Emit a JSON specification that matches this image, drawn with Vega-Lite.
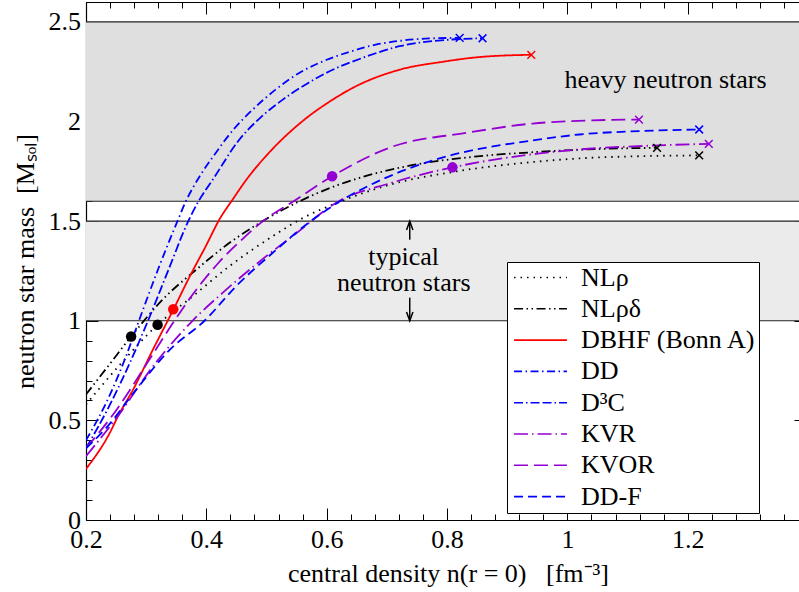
{
  "$schema": "https://vega.github.io/schema/vega-lite/v6.json",
  "width": 713,
  "height": 518,
  "autosize": {"type": "none"},
  "padding": {"left": 86, "top": 2, "right": 0, "bottom": 72},
  "background": "white",
  "config": {
    "view": {"stroke": null},
    "font": "Liberation Serif",
    "axis": {"labelFont": "Liberation Serif", "labelFontSize": 26, "labelColor": "black", "titleFont": "Liberation Serif", "titleFontSize": 26, "titleFontWeight": "normal", "titleColor": "black", "domainColor": "black", "tickColor": "black", "grid": false, "labelFlush": false, "labelOverlap": false, "labelBound": false}
  },
  "datasets": {
    "curves": [
      {"m": "NLρ", "x": 0.2, "y": 0.58}, {"m": "NLρ", "x": 0.255, "y": 0.775}, {"m": "NLρ", "x": 0.319, "y": 0.98}, {"m": "NLρ", "x": 0.377, "y": 1.122}, {"m": "NLρ", "x": 0.438, "y": 1.273}, {"m": "NLρ", "x": 0.51, "y": 1.424}, {"m": "NLρ", "x": 0.56, "y": 1.515}, {"m": "NLρ", "x": 0.62, "y": 1.595}, {"m": "NLρ", "x": 0.705, "y": 1.683}, {"m": "NLρ", "x": 0.816, "y": 1.75}, {"m": "NLρ", "x": 0.954, "y": 1.8}, {"m": "NLρ", "x": 1.02, "y": 1.815}, {"m": "NLρ", "x": 1.12, "y": 1.826}, {"m": "NLρ", "x": 1.219, "y": 1.83},
      {"m": "NLρδ", "x": 0.2, "y": 0.63}, {"m": "NLρδ", "x": 0.24, "y": 0.785}, {"m": "NLρδ", "x": 0.275, "y": 0.921}, {"m": "NLρδ", "x": 0.327, "y": 1.105}, {"m": "NLρδ", "x": 0.383, "y": 1.256}, {"m": "NLρδ", "x": 0.438, "y": 1.39}, {"m": "NLρδ", "x": 0.488, "y": 1.49}, {"m": "NLρδ", "x": 0.555, "y": 1.6}, {"m": "NLρδ", "x": 0.622, "y": 1.685}, {"m": "NLρδ", "x": 0.732, "y": 1.775}, {"m": "NLρδ", "x": 0.85, "y": 1.825}, {"m": "NLρδ", "x": 0.954, "y": 1.848}, {"m": "NLρδ", "x": 1.05, "y": 1.862}, {"m": "NLρδ", "x": 1.149, "y": 1.868},
      {"m": "DBHF (Bonn A)", "x": 0.2, "y": 0.256}, {"m": "DBHF (Bonn A)", "x": 0.24, "y": 0.44}, {"m": "DBHF (Bonn A)", "x": 0.253, "y": 0.52}, {"m": "DBHF (Bonn A)", "x": 0.278, "y": 0.653}, {"m": "DBHF (Bonn A)", "x": 0.311, "y": 0.854}, {"m": "DBHF (Bonn A)", "x": 0.345, "y": 1.055}, {"m": "DBHF (Bonn A)", "x": 0.372, "y": 1.22}, {"m": "DBHF (Bonn A)", "x": 0.4, "y": 1.38}, {"m": "DBHF (Bonn A)", "x": 0.422, "y": 1.51}, {"m": "DBHF (Bonn A)", "x": 0.444, "y": 1.61}, {"m": "DBHF (Bonn A)", "x": 0.467, "y": 1.71}, {"m": "DBHF (Bonn A)", "x": 0.5, "y": 1.83}, {"m": "DBHF (Bonn A)", "x": 0.555, "y": 1.99}, {"m": "DBHF (Bonn A)", "x": 0.61, "y": 2.11}, {"m": "DBHF (Bonn A)", "x": 0.644, "y": 2.17}, {"m": "DBHF (Bonn A)", "x": 0.721, "y": 2.26}, {"m": "DBHF (Bonn A)", "x": 0.793, "y": 2.3}, {"m": "DBHF (Bonn A)", "x": 0.859, "y": 2.325}, {"m": "DBHF (Bonn A)", "x": 0.94, "y": 2.335},
      {"m": "DD", "x": 0.2, "y": 0.4}, {"m": "DD", "x": 0.24, "y": 0.63}, {"m": "DD", "x": 0.265, "y": 0.81}, {"m": "DD", "x": 0.288, "y": 1.0}, {"m": "DD", "x": 0.32, "y": 1.26}, {"m": "DD", "x": 0.352, "y": 1.5}, {"m": "DD", "x": 0.366, "y": 1.6}, {"m": "DD", "x": 0.39, "y": 1.73}, {"m": "DD", "x": 0.415, "y": 1.84}, {"m": "DD", "x": 0.445, "y": 1.96}, {"m": "DD", "x": 0.477, "y": 2.06}, {"m": "DD", "x": 0.515, "y": 2.16}, {"m": "DD", "x": 0.555, "y": 2.245}, {"m": "DD", "x": 0.6, "y": 2.31}, {"m": "DD", "x": 0.638, "y": 2.35}, {"m": "DD", "x": 0.68, "y": 2.385}, {"m": "DD", "x": 0.721, "y": 2.405}, {"m": "DD", "x": 0.77, "y": 2.417}, {"m": "DD", "x": 0.821, "y": 2.42},
      {"m": "D³C", "x": 0.2, "y": 0.36}, {"m": "D³C", "x": 0.24, "y": 0.58}, {"m": "D³C", "x": 0.27, "y": 0.77}, {"m": "D³C", "x": 0.303, "y": 1.0}, {"m": "D³C", "x": 0.335, "y": 1.24}, {"m": "D³C", "x": 0.37, "y": 1.5}, {"m": "D³C", "x": 0.387, "y": 1.6}, {"m": "D³C", "x": 0.411, "y": 1.71}, {"m": "D³C", "x": 0.455, "y": 1.91}, {"m": "D³C", "x": 0.49, "y": 2.02}, {"m": "D³C", "x": 0.527, "y": 2.11}, {"m": "D³C", "x": 0.57, "y": 2.195}, {"m": "D³C", "x": 0.61, "y": 2.26}, {"m": "D³C", "x": 0.66, "y": 2.32}, {"m": "D³C", "x": 0.721, "y": 2.378}, {"m": "D³C", "x": 0.8, "y": 2.41}, {"m": "D³C", "x": 0.859, "y": 2.418},
      {"m": "KVR", "x": 0.2, "y": 0.32}, {"m": "KVR", "x": 0.255, "y": 0.53}, {"m": "KVR", "x": 0.311, "y": 0.77}, {"m": "KVR", "x": 0.377, "y": 1.0}, {"m": "KVR", "x": 0.433, "y": 1.156}, {"m": "KVR", "x": 0.499, "y": 1.323}, {"m": "KVR", "x": 0.543, "y": 1.424}, {"m": "KVR", "x": 0.62, "y": 1.6}, {"m": "KVR", "x": 0.705, "y": 1.69}, {"m": "KVR", "x": 0.809, "y": 1.77}, {"m": "KVR", "x": 0.954, "y": 1.84}, {"m": "KVR", "x": 1.02, "y": 1.86}, {"m": "KVR", "x": 1.13, "y": 1.878}, {"m": "KVR", "x": 1.235, "y": 1.888},
      {"m": "KVOR", "x": 0.2, "y": 0.36}, {"m": "KVOR", "x": 0.25, "y": 0.55}, {"m": "KVOR", "x": 0.3, "y": 0.78}, {"m": "KVOR", "x": 0.347, "y": 1.0}, {"m": "KVOR", "x": 0.372, "y": 1.11}, {"m": "KVOR", "x": 0.42, "y": 1.29}, {"m": "KVOR", "x": 0.46, "y": 1.41}, {"m": "KVOR", "x": 0.494, "y": 1.5}, {"m": "KVOR", "x": 0.545, "y": 1.6}, {"m": "KVOR", "x": 0.609, "y": 1.725}, {"m": "KVOR", "x": 0.71, "y": 1.875}, {"m": "KVOR", "x": 0.832, "y": 1.943}, {"m": "KVOR", "x": 0.942, "y": 1.99}, {"m": "KVOR", "x": 1.03, "y": 2.005}, {"m": "KVOR", "x": 1.119, "y": 2.01},
      {"m": "DD-F", "x": 0.2, "y": 0.36}, {"m": "DD-F", "x": 0.233, "y": 0.46}, {"m": "DD-F", "x": 0.283, "y": 0.653}, {"m": "DD-F", "x": 0.339, "y": 0.854}, {"m": "DD-F", "x": 0.397, "y": 1.0}, {"m": "DD-F", "x": 0.449, "y": 1.172}, {"m": "DD-F", "x": 0.51, "y": 1.34}, {"m": "DD-F", "x": 0.577, "y": 1.508}, {"m": "DD-F", "x": 0.627, "y": 1.608}, {"m": "DD-F", "x": 0.7, "y": 1.72}, {"m": "DD-F", "x": 0.782, "y": 1.81}, {"m": "DD-F", "x": 0.954, "y": 1.91}, {"m": "DD-F", "x": 1.02, "y": 1.935}, {"m": "DD-F", "x": 1.12, "y": 1.952}, {"m": "DD-F", "x": 1.219, "y": 1.96}
    ],
    "dots": [
      {"m": "NLρδ", "x": 0.275, "y": 0.921},
      {"m": "NLρ", "x": 0.319, "y": 0.98},
      {"m": "DBHF (Bonn A)", "x": 0.345, "y": 1.058},
      {"m": "KVOR", "x": 0.609, "y": 1.725},
      {"m": "KVR", "x": 0.809, "y": 1.77}
    ],
    "ends": [
      {"m": "NLρ", "x": 1.219, "y": 1.83},
      {"m": "NLρδ", "x": 1.149, "y": 1.868},
      {"m": "DBHF (Bonn A)", "x": 0.94, "y": 2.335},
      {"m": "DD", "x": 0.821, "y": 2.42},
      {"m": "D³C", "x": 0.859, "y": 2.418},
      {"m": "KVR", "x": 1.235, "y": 1.888},
      {"m": "KVOR", "x": 1.119, "y": 2.01},
      {"m": "DD-F", "x": 1.219, "y": 1.96}
    ],
    "bands": [
      {"band": "heavy", "lo": 1.6, "hi": 2.5},
      {"band": "typical", "lo": 1.0, "hi": 1.5}
    ],
    "limits": [{"y": 1.0}, {"y": 1.5}, {"y": 1.6}, {"y": 2.5}],
    "labels": [
      {"text": "heavy neutron stars", "x": 1.163, "y": 2.169},
      {"text": "typical", "x": 0.728, "y": 1.281},
      {"text": "neutron stars", "x": 0.728, "y": 1.148}
    ],
    "shafts": [
      {"dir": "up", "x": 0.738, "y": 1.407, "y2": 1.5},
      {"dir": "down", "x": 0.738, "y": 1.116, "y2": 1.0}
    ],
    "heads": [
      {"dir": "up", "x": 0.738, "y": 1.5},
      {"dir": "down", "x": 0.738, "y": 1.0}
    ]
  },
  "resolve": {"axis": {"x": "independent", "y": "independent"}},
  "layer": [
    {
      "data": {"name": "bands"},
      "mark": {"type": "rect"},
      "encoding": {
        "y": {"field": "lo", "type": "quantitative", "scale": {"domain": [0, 2.6], "nice": false, "zero": false}, "axis": null},
        "y2": {"field": "hi"},
        "fill": {"field": "band", "type": "nominal", "scale": {"domain": ["heavy", "typical"], "range": ["#dfdfdf", "#ebebeb"]}, "legend": null}
      }
    },
    {
      "data": {"name": "limits"},
      "mark": {"type": "rule", "color": "#222222", "strokeWidth": 1.2},
      "encoding": {
        "y": {"field": "y", "type": "quantitative", "scale": {"domain": [0, 2.6], "nice": false, "zero": false}, "axis": null}
      }
    },
    {
      "data": {"name": "curves"},
      "mark": {"type": "line", "strokeWidth": 1.8, "interpolate": "monotone", "clip": true},
      "encoding": {
        "x": {"field": "x", "type": "quantitative", "scale": {"domain": [0.2, 1.3849], "nice": false, "zero": false},
          "axis": {"orient": "bottom", "values": [0.2, 0.4, 0.6, 0.8, 1, 1.2], "format": "~g", "tickSize": -12, "tickWidth": 1, "labelPadding": 18, "domain": true, "domainWidth": 1.2, "title": "central density n(r = 0)\u00a0\u00a0\u00a0[fm⁻³]", "titlePadding": 8, "titleX": 362}},
        "y": {"field": "y", "type": "quantitative", "scale": {"domain": [0, 2.6], "nice": false, "zero": false},
          "axis": {"orient": "left", "values": [0, 0.5, 1, 1.5, 2, 2.5], "format": "~g", "tickSize": -12, "tickWidth": 1, "labelPadding": 17.5, "domain": true, "domainWidth": 1.2, "title": "neutron star mass\u00a0\u00a0[Mₛₒₗ]", "titlePadding": 10}},
        "color": {"field": "m", "type": "nominal", "title": null,
          "scale": {"domain": ["NLρ", "NLρδ", "DBHF (Bonn A)", "DD", "D³C", "KVR", "KVOR", "DD-F"], "range": ["#000000", "#000000", "#ff0000", "#0000ff", "#0000ff", "#9400d3", "#9400d3", "#0000ff"]},
          "legend": {"orient": "none", "legendX": 421, "legendY": 260, "title": null, "symbolType": "stroke", "symbolSize": 2800, "symbolStrokeWidth": 1.6, "clipHeight": 25, "rowPadding": 4.3, "padding": 3, "symbolOffset": 3, "labelOffset": 13, "labelFont": "Liberation Serif", "labelFontSize": 26, "labelColor": "black", "labelLimit": 400, "strokeColor": "black", "fillColor": "white"}},
        "strokeDash": {"field": "m", "type": "nominal", "title": null,
          "scale": {"domain": ["NLρ", "NLρδ", "DBHF (Bonn A)", "DD", "D³C", "KVR", "KVOR", "DD-F"], "range": [[1.5, 5], [9, 3.5, 1.5, 3.5, 1.5, 3.5], [1, 0], [8, 3.5, 1.5, 3.5], [9, 3, 1.5, 3, 9, 3], [14, 4, 1.5, 4], [14, 6], [9, 5]]},
          "legend": {"orient": "none", "legendX": 421, "legendY": 260, "title": null, "symbolType": "stroke", "symbolSize": 2800, "symbolStrokeWidth": 1.6, "clipHeight": 25, "rowPadding": 4.3, "padding": 3, "symbolOffset": 3, "labelOffset": 13, "labelFont": "Liberation Serif", "labelFontSize": 26, "labelColor": "black", "labelLimit": 400, "strokeColor": "black", "fillColor": "white"}}
      }
    },
    {
      "data": {"name": "dots"},
      "mark": {"type": "point", "shape": "circle", "filled": true, "size": 110, "opacity": 1},
      "encoding": {
        "x": {"field": "x", "type": "quantitative", "scale": {"domain": [0.2, 1.3849], "nice": false, "zero": false},
          "axis": {"orient": "top", "values": [0.2, 0.4, 0.6, 0.8, 1, 1.2], "labels": false, "tickSize": -12, "tickWidth": 1, "domain": true, "domainWidth": 1.2, "title": null}},
        "y": {"field": "y", "type": "quantitative", "scale": {"domain": [0, 2.6], "nice": false, "zero": false},
          "axis": {"orient": "right", "offset": 7, "values": [0, 0.5, 1, 1.5, 2, 2.5], "labels": false, "tickSize": -12, "tickWidth": 1, "domain": true, "title": null}},
        "color": {"field": "m", "type": "nominal", "scale": {"domain": ["NLρ", "NLρδ", "DBHF (Bonn A)", "DD", "D³C", "KVR", "KVOR", "DD-F"], "range": ["#000000", "#000000", "#ff0000", "#0000ff", "#0000ff", "#9400d3", "#9400d3", "#0000ff"]}, "legend": null}
      }
    },
    {
      "data": {"name": "ends"},
      "mark": {"type": "point", "shape": "M-1,-1L1,1M-1,1L1,-1", "filled": false, "size": 60, "strokeWidth": 1.5, "opacity": 1},
      "encoding": {
        "x": {"field": "x", "type": "quantitative", "scale": {"domain": [0.2, 1.3849], "nice": false, "zero": false},
          "axis": {"orient": "bottom", "values": [0.24, 0.28, 0.32, 0.36, 0.44, 0.48, 0.52, 0.56, 0.64, 0.68, 0.72, 0.76, 0.84, 0.88, 0.92, 0.96, 1.04, 1.08, 1.12, 1.16, 1.24, 1.28, 1.32, 1.36], "labels": false, "tickSize": -6, "tickWidth": 1, "domain": false, "title": null}},
        "y": {"field": "y", "type": "quantitative", "scale": {"domain": [0, 2.6], "nice": false, "zero": false},
          "axis": {"orient": "left", "values": [0.1, 0.2, 0.3, 0.4, 0.6, 0.7, 0.8, 0.9, 1.1, 1.2, 1.3, 1.4, 1.6, 1.7, 1.8, 1.9, 2.1, 2.2, 2.3, 2.4, 2.6], "labels": false, "tickSize": -6, "tickWidth": 1, "domain": false, "title": null}},
        "color": {"field": "m", "type": "nominal", "scale": {"domain": ["NLρ", "NLρδ", "DBHF (Bonn A)", "DD", "D³C", "KVR", "KVOR", "DD-F"], "range": ["#000000", "#000000", "#ff0000", "#0000ff", "#0000ff", "#9400d3", "#9400d3", "#0000ff"]}, "legend": null}
      }
    },
    {
      "data": {"name": "labels"},
      "mark": {"type": "text", "font": "Liberation Serif", "fontSize": 26, "color": "black", "align": "center", "baseline": "alphabetic"},
      "encoding": {
        "x": {"field": "x", "type": "quantitative", "scale": {"domain": [0.2, 1.3849], "nice": false, "zero": false},
          "axis": {"orient": "top", "values": [0.24, 0.28, 0.32, 0.36, 0.44, 0.48, 0.52, 0.56, 0.64, 0.68, 0.72, 0.76, 0.84, 0.88, 0.92, 0.96, 1.04, 1.08, 1.12, 1.16, 1.24, 1.28, 1.32, 1.36], "labels": false, "tickSize": -6, "tickWidth": 1, "domain": false, "title": null}},
        "y": {"field": "y", "type": "quantitative", "scale": {"domain": [0, 2.6], "nice": false, "zero": false},
          "axis": {"orient": "right", "offset": 7, "values": [0.1, 0.2, 0.3, 0.4, 0.6, 0.7, 0.8, 0.9, 1.1, 1.2, 1.3, 1.4, 1.6, 1.7, 1.8, 1.9, 2.1, 2.2, 2.3, 2.4], "labels": false, "tickSize": -6, "tickWidth": 1, "domain": false, "title": null}},
        "text": {"field": "text", "type": "nominal"}
      }
    },
    {
      "data": {"name": "shafts"},
      "mark": {"type": "rule", "color": "black", "strokeWidth": 1.5},
      "encoding": {
        "x": {"field": "x", "type": "quantitative", "scale": {"domain": [0.2, 1.3849], "nice": false, "zero": false}, "axis": null},
        "y": {"field": "y", "type": "quantitative", "scale": {"domain": [0, 2.6], "nice": false, "zero": false}, "axis": null},
        "y2": {"field": "y2"}
      }
    },
    {
      "data": {"name": "heads"},
      "mark": {"type": "point", "filled": false, "size": 64, "strokeWidth": 1.5, "color": "black", "opacity": 1},
      "encoding": {
        "x": {"field": "x", "type": "quantitative", "scale": {"domain": [0.2, 1.3849], "nice": false, "zero": false}, "axis": null},
        "y": {"field": "y", "type": "quantitative", "scale": {"domain": [0, 2.6], "nice": false, "zero": false}, "axis": null},
        "shape": {"field": "dir", "type": "nominal", "scale": {"domain": ["up", "down"], "range": ["M-0.8,2.2L0,0L0.8,2.2", "M-0.8,-2.2L0,0L0.8,-2.2"]}, "legend": null}
      }
    }
  ]
}
